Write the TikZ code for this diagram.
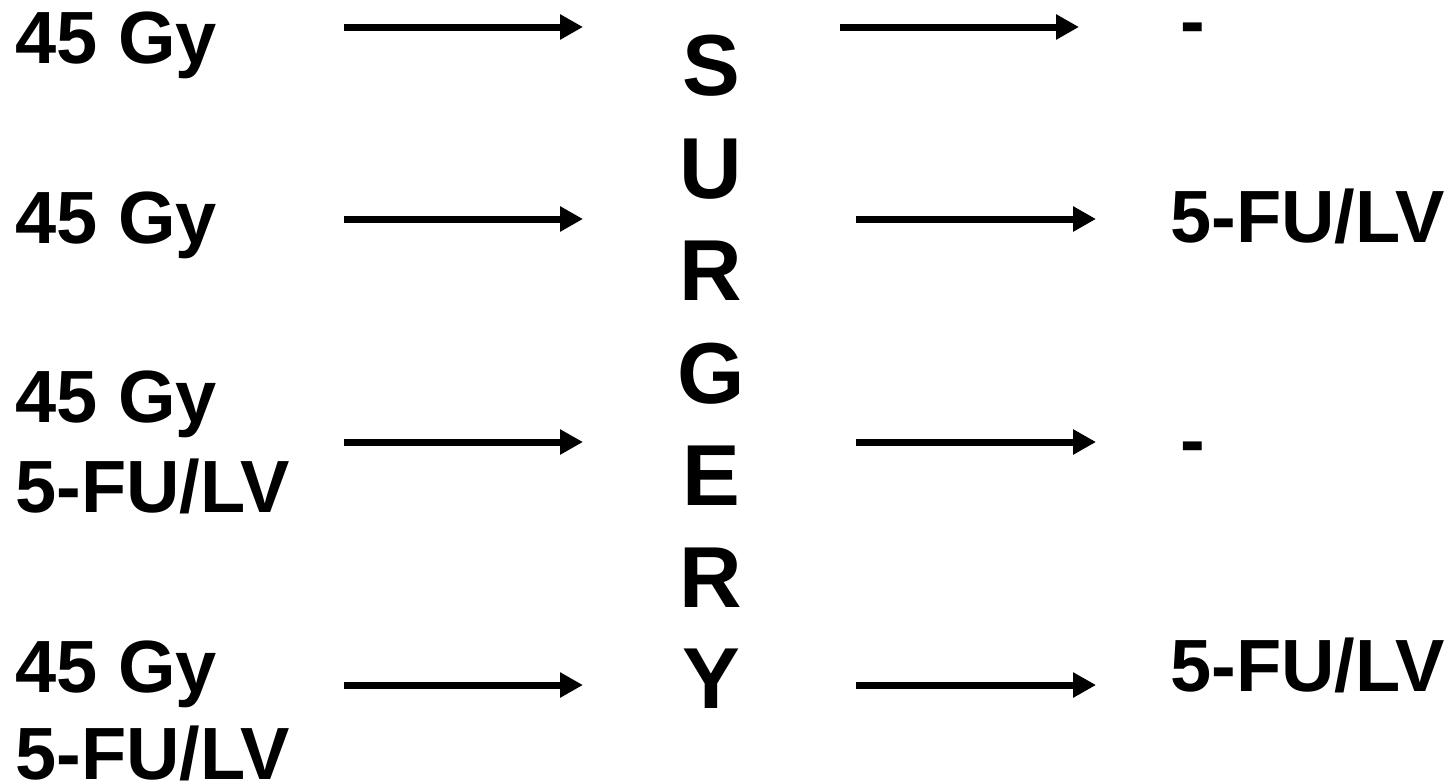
\documentclass[tikz,border=0pt]{standalone}
\usepackage{fontspec}
\setmainfont{Liberation Sans}
\usepackage{tikz}
\usetikzlibrary{arrows.meta}
\definecolor{mydark}{RGB}{0,0,0}
\tikzset{
  armlabel/.style={anchor=base west, inner sep=0pt,
    font=\fontsize{37}{45}\selectfont\bfseries, text=mydark},
  surgletter/.style={anchor=base, inner sep=0pt,
    font=\fontsize{43.3}{52}\selectfont\bfseries, text=mydark},
  arrow/.style={-{Triangle[length=11.5pt, width=12pt]}, line width=3.5pt, color=mydark}
}
\begin{document}
\begin{tikzpicture}[x=0.5pt, y=-0.5pt]
  \useasboundingbox (0,0) rectangle (1454,783);
  % ── Pre-operative arms (left column) ───────────────────────────────────────
  \node[armlabel] (preA) at (15,63) {45 Gy};
  \node[armlabel] (preB) at (15,243) {45 Gy};
  \node[armlabel] (preC) at (15,422) {45 Gy};
  \node[armlabel] (preCfu) at (15,512) {5-FU/LV};
  \node[armlabel] (preD) at (15,692) {45 Gy};
  \node[armlabel] (preDfu) at (15,779) {5-FU/LV};

  % ── Surgery, written downwards (centre column) ─────────────────────────────
  \node[surgletter] (surgS) at (711,95) {S};
  \node[surgletter] (surgU) at (711,198) {U};
  \node[surgletter] (surgR) at (711,300) {R};
  \node[surgletter] (surgG) at (711,403) {G};
  \node[surgletter] (surgE) at (711,505) {E};
  \node[surgletter] (surgRr) at (711,607) {R};
  \node[surgletter] (surgY) at (711,708) {Y};

  % ── Post-operative arms (right column) ─────────────────────────────────────
  \node[armlabel] (postA) at (1180,46) {-};
  \node[armlabel] (postB) at (1170,242) {5-FU/LV};
  \node[armlabel] (postC) at (1180,465) {-};
  \node[armlabel] (postD) at (1170,691) {5-FU/LV};

  % Arrow ends
  \coordinate (inA) at (344,27);   \coordinate (toSurgA) at (583,27);
  \coordinate (inB) at (344,219);  \coordinate (toSurgB) at (583,219);
  \coordinate (inC) at (344,442);  \coordinate (toSurgC) at (583,442);
  \coordinate (inD) at (344,685);  \coordinate (toSurgD) at (583,685);
  \coordinate (fromSurgA) at (840,27);   \coordinate (outA) at (1079,27);
  \coordinate (fromSurgB) at (856,219);  \coordinate (outB) at (1096,219);
  \coordinate (fromSurgC) at (856,442);  \coordinate (outC) at (1096,442);
  \coordinate (fromSurgD) at (856,685);  \coordinate (outD) at (1096,685);

  % Arrows into and out of surgery
  \draw[arrow] (inA) -- (toSurgA);
  \draw[arrow] (inB) -- (toSurgB);
  \draw[arrow] (inC) -- (toSurgC);
  \draw[arrow] (inD) -- (toSurgD);
  \draw[arrow] (fromSurgA) -- (outA);
  \draw[arrow] (fromSurgB) -- (outB);
  \draw[arrow] (fromSurgC) -- (outC);
  \draw[arrow] (fromSurgD) -- (outD);
\end{tikzpicture}
\end{document}
